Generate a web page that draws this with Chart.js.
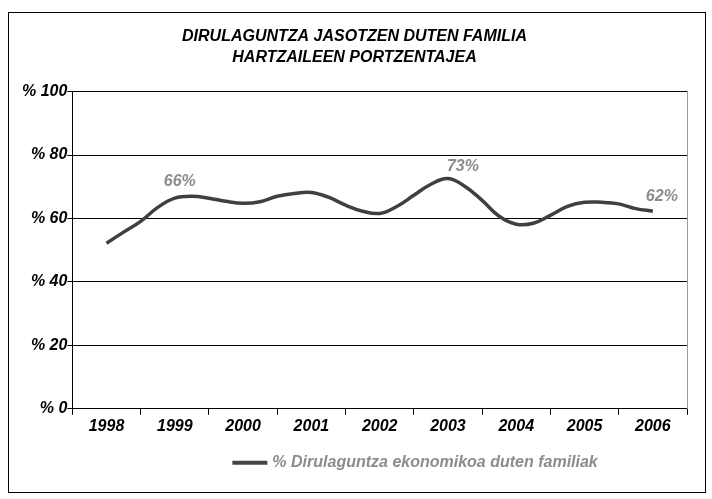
<!DOCTYPE html>
<html>
<head>
<meta charset="utf-8">
<script src="https://cdn.jsdelivr.net/npm/chart.js@4/dist/chart.umd.min.js"></script>
<style>
	body { margin: 0; background: #fff; }
	#frame {
		position: absolute;
		left: 8px;
		top: 12px;
		width: 696px;
		height: 479px;
		border: 1px solid #000;
	}
</style>
</head>
<body>
<div id="frame"><canvas id="lineChart" width="696" height="479"></canvas></div>
<script>
const years = ['1998', '1999', '2000', '2001', '2002', '2003', '2004', '2005', '2006'];

// quarterly positions of the smoothed series (year fractions)
const periods = [
	1998, 1998.25, 1998.5, 1998.75,
	1999, 1999.25, 1999.5, 1999.75,
	2000, 2000.25, 2000.5, 2000.75,
	2001, 2001.25, 2001.5, 2001.75,
	2002, 2002.25, 2002.5, 2002.75,
	2003, 2003.25, 2003.5, 2003.75,
	2004, 2004.25, 2004.5, 2004.75,
	2005, 2005.25, 2005.5, 2005.75,
	2006
];
const familyPct = [
	52.2, 55.7, 59.1, 63.5,
	66.4, 67.0, 66.4, 65.4,
	64.8, 65.3, 67.0, 67.9,
	68.2, 66.7, 64.2, 62.3,
	61.6, 63.8, 67.3, 70.8,
	72.6, 70.1, 65.7, 60.7,
	58.2, 58.5, 61.0, 63.8,
	65.1, 65.1, 64.6, 63.1,
	62.3
];
const yTicks = [0, 20, 40, 60, 80, 100];
const calloutAt = [1999, 2003, 2006];
const calloutText = ['66%', '73%', '62%'];

const FONT = "'Liberation Sans', Arial, sans-serif";
const seriesName = '% Dirulaguntza ekonomikoa duten familiak';

const callouts = {
	id: 'callouts',
	afterDatasetsDraw(chart) {
		const { ctx, scales } = chart;
		const shift = [[5, -17], [15, -12], [9, -15]];
		ctx.save();
		ctx.font = 'italic bold 16px ' + FONT;
		ctx.fillStyle = '#8c8c8c';
		ctx.textAlign = 'center';
		ctx.textBaseline = 'middle';
		calloutAt.forEach((yr, i) => {
			const v = familyPct[periods.indexOf(yr)];
			const px = scales.xq.getPixelForValue(yr) + shift[i][0];
			const py = scales.y.getPixelForValue(v) + shift[i][1];
			ctx.fillText(calloutText[i], px, py);
		});
		ctx.restore();
	}
};

const sideLegend = {
	id: 'sideLegend',
	afterDraw(chart) {
		const { ctx, chartArea } = chart;
		const x = chartArea.left + 160;
		const y = chartArea.bottom + 54;
		ctx.save();
		ctx.strokeStyle = '#444';
		ctx.lineWidth = 4;
		ctx.beginPath();
		ctx.moveTo(x, y);
		ctx.lineTo(x + 35, y);
		ctx.stroke();
		ctx.font = 'italic bold 16px ' + FONT;
		ctx.fillStyle = '#8c8c8c';
		ctx.textBaseline = 'middle';
		ctx.fillText(seriesName, x + 40, y);
		ctx.restore();
	}
};

new Chart(document.getElementById('lineChart'), {
	type: 'line',
	data: {
		datasets: [{
			label: seriesName,
			data: periods.map((p, i) => ({ x: p, y: familyPct[i] })),
			xAxisID: 'xq',
			borderColor: '#404040',
			borderWidth: 3.5,
			pointRadius: 0,
			tension: 0.4,
			fill: false
		}]
	},
	options: {
		responsive: false,
		animation: false,
		layout: {
			padding: { left: 13, right: 18, bottom: 54 }
		},
		scales: {
			x: {
				type: 'category',
				labels: years,
				offset: true,
				grid: {
					offset: true,
					drawOnChartArea: false,
					tickLength: 6,
					color: '#000'
				},
				border: { color: '#000', width: 1 },
				ticks: {
					color: '#000',
					padding: 2,
					font: { family: FONT, size: 16, style: 'italic', weight: 'bold' }
				}
			},
			xq: {
				type: 'linear',
				display: false,
				min: 1997.5,
				max: 2006.5
			},
			y: {
				min: 0,
				max: 100,
				afterBuildTicks: (axis) => { axis.ticks = yTicks.map(v => ({ value: v })); },
				grid: { color: '#000', tickLength: 5 },
				border: { color: '#000', width: 1 },
				ticks: {
					color: '#000',
					padding: 0,
					font: { family: FONT, size: 16, style: 'italic', weight: 'bold' },
					callback: (v) => '% ' + v
				}
			},
			yR: {
				position: 'right',
				min: 0,
				max: 100,
				grid: { drawOnChartArea: false, drawTicks: false },
				border: { color: '#999', width: 1 },
				ticks: { display: false }
			}
		},
		plugins: {
			legend: { display: false },
			tooltip: { enabled: false },
			title: {
				display: true,
				text: ['DIRULAGUNTZA JASOTZEN DUTEN FAMILIA', 'HARTZAILEEN PORTZENTAJEA'],
				color: '#000',
				font: { family: FONT, size: 16, style: 'italic', weight: 'bold', lineHeight: 1.3 },
				padding: { top: 13, bottom: 24 }
			}
		}
	},
	plugins: [callouts, sideLegend]
});
</script>
</body>
</html>
